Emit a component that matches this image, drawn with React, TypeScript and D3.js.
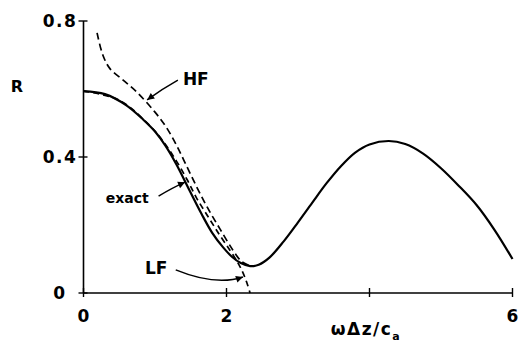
import { useRef, useEffect } from "react";
import * as d3 from "d3";

// [x, R]
const exactCurve: [number, number][] = [
  [0, 0.594], [0.3, 0.585], [0.6, 0.552], [0.84, 0.509], [1.0, 0.475],
  [1.15, 0.432], [1.3, 0.378], [1.48, 0.303], [1.65, 0.233], [1.8, 0.177],
  [1.95, 0.135], [2.08, 0.106], [2.2, 0.088], [2.33, 0.079], [2.45, 0.083],
  [2.6, 0.104], [2.8, 0.152], [3.0, 0.208], [3.2, 0.266], [3.4, 0.323],
  [3.6, 0.373], [3.8, 0.413], [4.0, 0.437], [4.27, 0.447], [4.5, 0.438],
  [4.75, 0.41], [5.0, 0.367], [5.25, 0.315], [5.5, 0.258], [5.75, 0.185],
  [6.0, 0.1],
];

const hfCurve: [number, number][] = [
  [0.19, 0.765], [0.27, 0.7], [0.37, 0.66], [0.55, 0.627], [0.75, 0.59],
  [1.0, 0.532], [1.15, 0.49], [1.3, 0.435], [1.45, 0.37], [1.6, 0.305],
  [1.75, 0.245], [1.91, 0.188], [2.09, 0.126], [2.21, 0.093], [2.32, 0.081],
];

const lfCurve: [number, number][] = [
  [0, 0.594], [0.5, 0.567], [0.9, 0.498], [1.1, 0.45], [1.3, 0.388],
  [1.45, 0.333], [1.58, 0.28], [1.75, 0.222], [1.9, 0.172], [2.05, 0.125],
  [2.15, 0.092], [2.22, 0.064], [2.28, 0.033], [2.33, 0.0],
];

const xTicks = [0, 2, 4, 6];
const xTickLabels = ["0", "2", "", "6"];
const yTicks = [0, 0.4, 0.8];
const yTickLabels = ["0", "0.4", "0.8"];

// label text, label anchor, arrow start / control / end (data units)
const notes = [
  { text: "HF", at: [1.39, 0.612], size: 17, from: [1.32, 0.626], ctrl: [1.1, 0.6], to: [0.89, 0.568] },
  { text: "exact", at: [0.31, 0.265], size: 14, from: [1.05, 0.285], ctrl: [1.25, 0.31], to: [1.42, 0.326] },
  { text: "LF", at: [0.86, 0.056], size: 17, from: [1.29, 0.068], ctrl: [1.85, 0.02], to: [2.23, 0.047] },
];

export default function App() {
  const svgRef = useRef<SVGSVGElement>(null);

  useEffect(() => {
    if (!svgRef.current) return;
    const svg = d3.select(svgRef.current);
    svg.selectAll("*").remove();

    const x = d3.scaleLinear().domain([0, 6]).range([83.5, 512.5]);
    const y = d3.scaleLinear().domain([0, 0.8]).range([293, 21]);
    const font = "'DejaVu Sans', 'Liberation Sans', sans-serif";

    const line = d3
      .line<[number, number]>()
      .x((d) => x(d[0]))
      .y((d) => y(d[1]))
      .curve(d3.curveCatmullRom.alpha(0.5));

    // axes
    svg.append("line")
      .attr("x1", x(0)).attr("x2", x(0)).attr("y1", y(0.8)).attr("y2", y(0))
      .attr("stroke", "#000").attr("stroke-width", 1.6);
    svg.append("line")
      .attr("x1", x(0)).attr("x2", x(6)).attr("y1", y(0)).attr("y2", y(0))
      .attr("stroke", "#000").attr("stroke-width", 1.6);

    yTicks.forEach((t, i) => {
      svg.append("line")
        .attr("x1", x(0) - 5).attr("x2", x(0) + 4)
        .attr("y1", y(t)).attr("y2", y(t))
        .attr("stroke", "#000").attr("stroke-width", 1.4);
      svg.append("text")
        .attr("x", 60).attr("y", y(t))
        .attr("dy", "0.36em")
        .attr("text-anchor", "middle")
        .attr("font-family", font).attr("font-weight", "bold").attr("font-size", 17)
        .attr("letter-spacing", 1.5)
        .text(yTickLabels[i]);
    });

    xTicks.forEach((t, i) => {
      svg.append("line")
        .attr("x1", x(t)).attr("x2", x(t))
        .attr("y1", y(0) - 5).attr("y2", y(0) + 4)
        .attr("stroke", "#000").attr("stroke-width", 1.4);
      svg.append("text")
        .attr("x", x(t)).attr("y", 322)
        .attr("text-anchor", "middle")
        .attr("font-family", font).attr("font-weight", "bold").attr("font-size", 17)
        .text(xTickLabels[i]);
    });

    // axis titles
    svg.append("text")
      .attr("x", 17).attr("y", 92)
      .attr("text-anchor", "middle")
      .attr("font-family", font).attr("font-weight", "bold").attr("font-size", 16)
      .text("R");

    const xl = svg.append("text")
      .attr("x", 366).attr("y", 335)
      .attr("text-anchor", "middle")
      .attr("font-family", font).attr("font-weight", "bold").attr("font-size", 17)
      .attr("letter-spacing", 1.5);
    xl.append("tspan").text("ωΔz/c");
    xl.append("tspan").attr("dy", 5).attr("font-size", 11).text("a");

    // curves
    svg.append("path")
      .attr("d", line(exactCurve))
      .attr("fill", "none").attr("stroke", "#000").attr("stroke-width", 2.2);
    svg.append("path")
      .attr("d", line(hfCurve))
      .attr("fill", "none").attr("stroke", "#000").attr("stroke-width", 1.7)
      .attr("stroke-dasharray", "7,4");
    svg.append("path")
      .attr("d", line(lfCurve))
      .attr("fill", "none").attr("stroke", "#000").attr("stroke-width", 1.7)
      .attr("stroke-dasharray", "6,4");

    // annotations with arrows
    notes.forEach((n) => {
      svg.append("text")
        .attr("x", x(n.at[0])).attr("y", y(n.at[1]))
        .attr("font-family", font).attr("font-weight", "bold").attr("font-size", n.size)
        .text(n.text);
      const p = d3.path();
      p.moveTo(x(n.from[0]), y(n.from[1]));
      p.quadraticCurveTo(x(n.ctrl[0]), y(n.ctrl[1]), x(n.to[0]), y(n.to[1]));
      svg.append("path")
        .attr("d", p.toString())
        .attr("fill", "none").attr("stroke", "#000").attr("stroke-width", 1.5);
      // arrow head along control->end direction
      const ex = x(n.to[0]), ey = y(n.to[1]);
      const ang = Math.atan2(ey - y(n.ctrl[1]), ex - x(n.ctrl[0]));
      const len = 7, wid = 3.5;
      const bx = ex - len * Math.cos(ang), by = ey - len * Math.sin(ang);
      const px = -Math.sin(ang) * wid, py = Math.cos(ang) * wid;
      svg.append("path")
        .attr("d", `M${ex},${ey}L${bx + px},${by + py}L${bx - px},${by - py}Z`)
        .attr("fill", "#000");
    });
  }, []);

  return (
    <svg
      ref={svgRef}
      width={520}
      height={342}
      style={{ position: "absolute", left: 0, top: 0, background: "#fff" }}
    />
  );
}
